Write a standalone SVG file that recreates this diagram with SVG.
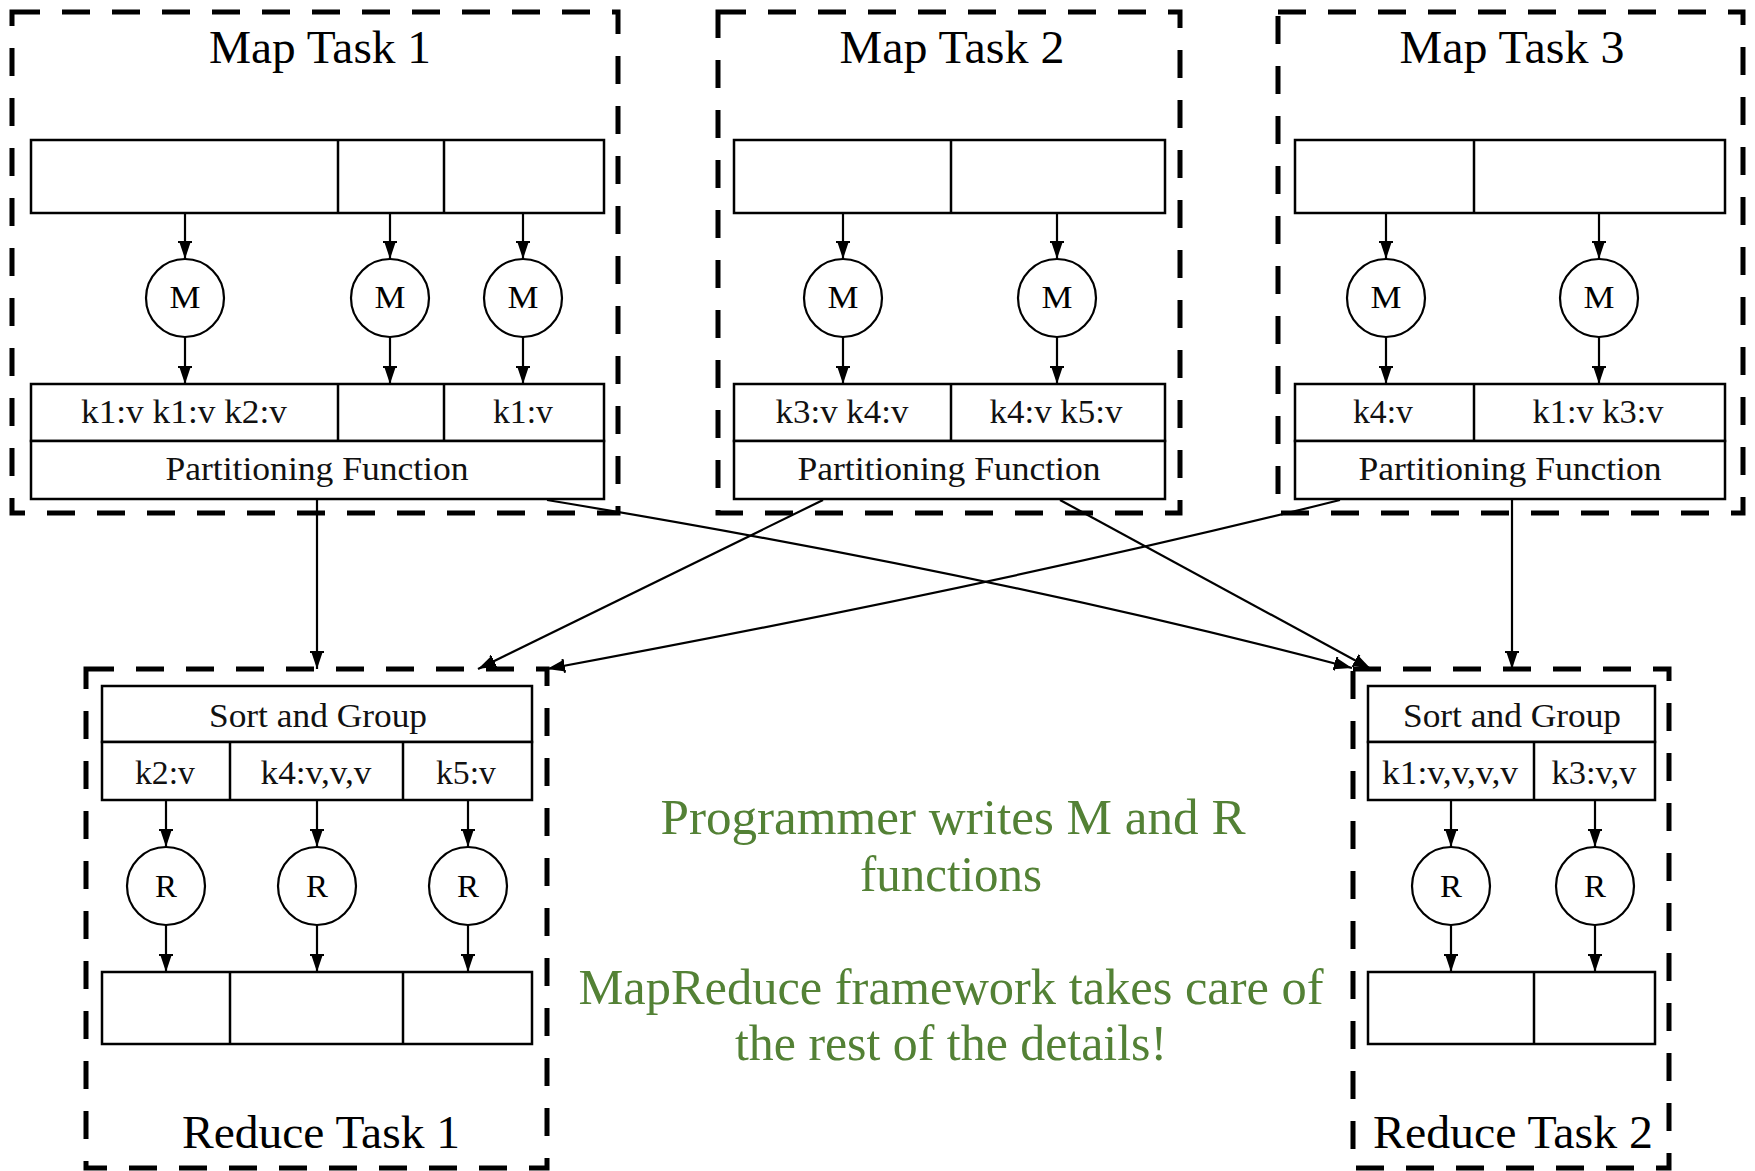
<svg xmlns="http://www.w3.org/2000/svg" width="1755" height="1171" viewBox="0 0 1755 1171">
  <style>
    .cluster { fill: none; stroke: #000; stroke-width: 5; stroke-dasharray: 28 22; }
    .cell { fill: #fff; stroke: #000; stroke-width: 2.5; }
    .proc { fill: #fff; stroke: #000; stroke-width: 2.2; }
    .title { font-family: "Liberation Serif", "Times New Roman", serif; font-size: 46px; fill: #000; text-anchor: middle; }
    .lbl { font-family: "Liberation Serif", "Times New Roman", serif; font-size: 33px; fill: #111; text-anchor: middle; }
    .fn { font-family: "Liberation Serif", "Times New Roman", serif; font-size: 31px; fill: #000; text-anchor: middle; }
    .edge { fill: none; stroke: #000; stroke-width: 2.2; marker-end: url(#ah); }
    .note { font-family: "Liberation Serif", "Times New Roman", serif; font-size: 50px; fill: #538135; text-anchor: middle; }
  </style>
  <defs>
    <marker id="ah" viewBox="0 0 18 14" refX="18" refY="7" markerWidth="18" markerHeight="14" markerUnits="userSpaceOnUse" orient="auto">
      <path d="M0,1 L18,7 L0,13 Z" fill="#000"/>
      <path d="M1,0 L1,14" stroke="#000" stroke-width="2"/>
    </marker>
  </defs>
  <rect width="1755" height="1171" fill="#fff"/>

  <!-- Map Task 1 -->
  <g id="map-task-1">
    <rect class="cluster" x="12" y="12" width="606" height="501"/>
    <text class="title" x="320" y="63" textLength="222" lengthAdjust="spacingAndGlyphs">Map Task 1</text>
    <g id="map1-input">
      <rect class="cell" x="31" y="140" width="573" height="73"/>
      <line class="cell" x1="338" y1="140" x2="338" y2="213"/>
      <line class="cell" x1="444" y1="140" x2="444" y2="213"/>
    </g>
    <g id="map1-m1"><circle class="proc" cx="185" cy="298" r="39"/><text class="fn" x="185" y="308" textLength="31" lengthAdjust="spacingAndGlyphs">M</text></g>
    <g id="map1-m2"><circle class="proc" cx="390" cy="298" r="39"/><text class="fn" x="390" y="308" textLength="31" lengthAdjust="spacingAndGlyphs">M</text></g>
    <g id="map1-m3"><circle class="proc" cx="523" cy="298" r="39"/><text class="fn" x="523" y="308" textLength="31" lengthAdjust="spacingAndGlyphs">M</text></g>
    <g id="map1-output">
      <rect class="cell" x="31" y="384" width="573" height="57"/>
      <line class="cell" x1="338" y1="384" x2="338" y2="441"/>
      <line class="cell" x1="444" y1="384" x2="444" y2="441"/>
      <text class="lbl" x="184" y="423" textLength="206" lengthAdjust="spacingAndGlyphs">k1:v k1:v k2:v</text>
      <text class="lbl" x="523" y="423" textLength="60" lengthAdjust="spacingAndGlyphs">k1:v</text>
      <rect class="cell" x="31" y="441" width="573" height="58"/>
      <text class="lbl" x="317" y="480" textLength="303" lengthAdjust="spacingAndGlyphs">Partitioning Function</text>
    </g>
  </g>

  <!-- Map Task 2 -->
  <g id="map-task-2">
    <rect class="cluster" x="718" y="12" width="462" height="501"/>
    <text class="title" x="952" y="63" textLength="225" lengthAdjust="spacingAndGlyphs">Map Task 2</text>
    <g id="map2-input">
      <rect class="cell" x="734" y="140" width="431" height="73"/>
      <line class="cell" x1="951" y1="140" x2="951" y2="213"/>
    </g>
    <g id="map2-m1"><circle class="proc" cx="843" cy="298" r="39"/><text class="fn" x="843" y="308" textLength="31" lengthAdjust="spacingAndGlyphs">M</text></g>
    <g id="map2-m2"><circle class="proc" cx="1057" cy="298" r="39"/><text class="fn" x="1057" y="308" textLength="31" lengthAdjust="spacingAndGlyphs">M</text></g>
    <g id="map2-output">
      <rect class="cell" x="734" y="384" width="431" height="57"/>
      <line class="cell" x1="951" y1="384" x2="951" y2="441"/>
      <text class="lbl" x="842" y="423" textLength="133" lengthAdjust="spacingAndGlyphs">k3:v k4:v</text>
      <text class="lbl" x="1056" y="423" textLength="133" lengthAdjust="spacingAndGlyphs">k4:v k5:v</text>
      <rect class="cell" x="734" y="441" width="431" height="58"/>
      <text class="lbl" x="949" y="480" textLength="303" lengthAdjust="spacingAndGlyphs">Partitioning Function</text>
    </g>
  </g>

  <!-- Map Task 3 -->
  <g id="map-task-3">
    <rect class="cluster" x="1278" y="12" width="465" height="501"/>
    <text class="title" x="1512" y="63" textLength="225" lengthAdjust="spacingAndGlyphs">Map Task 3</text>
    <g id="map3-input">
      <rect class="cell" x="1295" y="140" width="430" height="73"/>
      <line class="cell" x1="1474" y1="140" x2="1474" y2="213"/>
    </g>
    <g id="map3-m1"><circle class="proc" cx="1386" cy="298" r="39"/><text class="fn" x="1386" y="308" textLength="31" lengthAdjust="spacingAndGlyphs">M</text></g>
    <g id="map3-m2"><circle class="proc" cx="1599" cy="298" r="39"/><text class="fn" x="1599" y="308" textLength="31" lengthAdjust="spacingAndGlyphs">M</text></g>
    <g id="map3-output">
      <rect class="cell" x="1295" y="384" width="430" height="57"/>
      <line class="cell" x1="1474" y1="384" x2="1474" y2="441"/>
      <text class="lbl" x="1383" y="423" textLength="60" lengthAdjust="spacingAndGlyphs">k4:v</text>
      <text class="lbl" x="1598" y="423" textLength="131" lengthAdjust="spacingAndGlyphs">k1:v k3:v</text>
      <rect class="cell" x="1295" y="441" width="430" height="58"/>
      <text class="lbl" x="1510" y="480" textLength="303" lengthAdjust="spacingAndGlyphs">Partitioning Function</text>
    </g>
  </g>

  <!-- Reduce Task 1 -->
  <g id="reduce-task-1">
    <rect class="cluster" x="86" y="669" width="461" height="499"/>
    <g id="reduce1-sort">
      <rect class="cell" x="102" y="686" width="430" height="56"/>
      <text class="lbl" x="318" y="727" textLength="218" lengthAdjust="spacingAndGlyphs">Sort and Group</text>
      <rect class="cell" x="102" y="742" width="430" height="58"/>
      <line class="cell" x1="230" y1="742" x2="230" y2="800"/>
      <line class="cell" x1="403" y1="742" x2="403" y2="800"/>
      <text class="lbl" x="165" y="784" textLength="60" lengthAdjust="spacingAndGlyphs">k2:v</text>
      <text class="lbl" x="316" y="784" textLength="111" lengthAdjust="spacingAndGlyphs">k4:v,v,v</text>
      <text class="lbl" x="466" y="784" textLength="60" lengthAdjust="spacingAndGlyphs">k5:v</text>
    </g>
    <g id="reduce1-r1"><circle class="proc" cx="166" cy="886" r="39"/><text class="fn" x="166" y="897" textLength="22" lengthAdjust="spacingAndGlyphs">R</text></g>
    <g id="reduce1-r2"><circle class="proc" cx="317" cy="886" r="39"/><text class="fn" x="317" y="897" textLength="22" lengthAdjust="spacingAndGlyphs">R</text></g>
    <g id="reduce1-r3"><circle class="proc" cx="468" cy="886" r="39"/><text class="fn" x="468" y="897" textLength="22" lengthAdjust="spacingAndGlyphs">R</text></g>
    <g id="reduce1-output">
      <rect class="cell" x="102" y="972" width="430" height="72"/>
      <line class="cell" x1="230" y1="972" x2="230" y2="1044"/>
      <line class="cell" x1="403" y1="972" x2="403" y2="1044"/>
    </g>
    <text class="title" x="321" y="1148" textLength="278" lengthAdjust="spacingAndGlyphs">Reduce Task 1</text>
  </g>

  <!-- Reduce Task 2 -->
  <g id="reduce-task-2">
    <rect class="cluster" x="1353" y="669" width="316" height="499"/>
    <g id="reduce2-sort">
      <rect class="cell" x="1368" y="686" width="287" height="56"/>
      <text class="lbl" x="1512" y="727" textLength="218" lengthAdjust="spacingAndGlyphs">Sort and Group</text>
      <rect class="cell" x="1368" y="742" width="287" height="58"/>
      <line class="cell" x1="1534" y1="742" x2="1534" y2="800"/>
      <text class="lbl" x="1450" y="784" textLength="136" lengthAdjust="spacingAndGlyphs">k1:v,v,v,v</text>
      <text class="lbl" x="1594" y="784" textLength="85" lengthAdjust="spacingAndGlyphs">k3:v,v</text>
    </g>
    <g id="reduce2-r1"><circle class="proc" cx="1451" cy="886" r="39"/><text class="fn" x="1451" y="897" textLength="22" lengthAdjust="spacingAndGlyphs">R</text></g>
    <g id="reduce2-r2"><circle class="proc" cx="1595" cy="886" r="39"/><text class="fn" x="1595" y="897" textLength="22" lengthAdjust="spacingAndGlyphs">R</text></g>
    <g id="reduce2-output">
      <rect class="cell" x="1368" y="972" width="287" height="72"/>
      <line class="cell" x1="1534" y1="972" x2="1534" y2="1044"/>
    </g>
    <text class="title" x="1513" y="1148" textLength="280" lengthAdjust="spacingAndGlyphs">Reduce Task 2</text>
  </g>

  <!-- Annotation -->
  <g id="note">
    <text class="note" x="953" y="834" textLength="585" lengthAdjust="spacingAndGlyphs">Programmer writes M and R</text>
    <text class="note" x="951" y="891" textLength="182" lengthAdjust="spacingAndGlyphs">functions</text>
    <text class="note" x="951" y="1004" textLength="745" lengthAdjust="spacingAndGlyphs">MapReduce framework takes care of</text>
    <text class="note" x="951" y="1060" textLength="432" lengthAdjust="spacingAndGlyphs">the rest of the details!</text>
  </g>

  <!-- Connectors -->
  <g id="connectors">
    <!-- map 1: splits to mappers to partitions -->
    <line class="edge" x1="185" y1="213" x2="185" y2="259"/>
    <line class="edge" x1="390" y1="213" x2="390" y2="259"/>
    <line class="edge" x1="523" y1="213" x2="523" y2="259"/>
    <line class="edge" x1="185" y1="337" x2="185" y2="384"/>
    <line class="edge" x1="390" y1="337" x2="390" y2="384"/>
    <line class="edge" x1="523" y1="337" x2="523" y2="384"/>
    <!-- map 2 -->
    <line class="edge" x1="843" y1="213" x2="843" y2="259"/>
    <line class="edge" x1="1057" y1="213" x2="1057" y2="259"/>
    <line class="edge" x1="843" y1="337" x2="843" y2="384"/>
    <line class="edge" x1="1057" y1="337" x2="1057" y2="384"/>
    <!-- map 3 -->
    <line class="edge" x1="1386" y1="213" x2="1386" y2="259"/>
    <line class="edge" x1="1599" y1="213" x2="1599" y2="259"/>
    <line class="edge" x1="1386" y1="337" x2="1386" y2="384"/>
    <line class="edge" x1="1599" y1="337" x2="1599" y2="384"/>
    <!-- shuffle: partitions to reduce tasks -->
    <line class="edge" x1="317" y1="499" x2="317" y2="669"/>
    <path class="edge" d="M547,500 Q1000,575 1352,668"/>
    <line class="edge" x1="823" y1="500" x2="478" y2="669"/>
    <line class="edge" x1="1060" y1="500" x2="1371" y2="669"/>
    <path class="edge" d="M1340,500 Q1000,585 547,669"/>
    <line class="edge" x1="1512" y1="499" x2="1512" y2="669"/>
    <!-- reduce 1 -->
    <line class="edge" x1="166" y1="800" x2="166" y2="847"/>
    <line class="edge" x1="317" y1="800" x2="317" y2="847"/>
    <line class="edge" x1="468" y1="800" x2="468" y2="847"/>
    <line class="edge" x1="166" y1="925" x2="166" y2="972"/>
    <line class="edge" x1="317" y1="925" x2="317" y2="972"/>
    <line class="edge" x1="468" y1="925" x2="468" y2="972"/>
    <!-- reduce 2 -->
    <line class="edge" x1="1451" y1="800" x2="1451" y2="847"/>
    <line class="edge" x1="1595" y1="800" x2="1595" y2="847"/>
    <line class="edge" x1="1451" y1="925" x2="1451" y2="972"/>
    <line class="edge" x1="1595" y1="925" x2="1595" y2="972"/>
  </g>
</svg>
